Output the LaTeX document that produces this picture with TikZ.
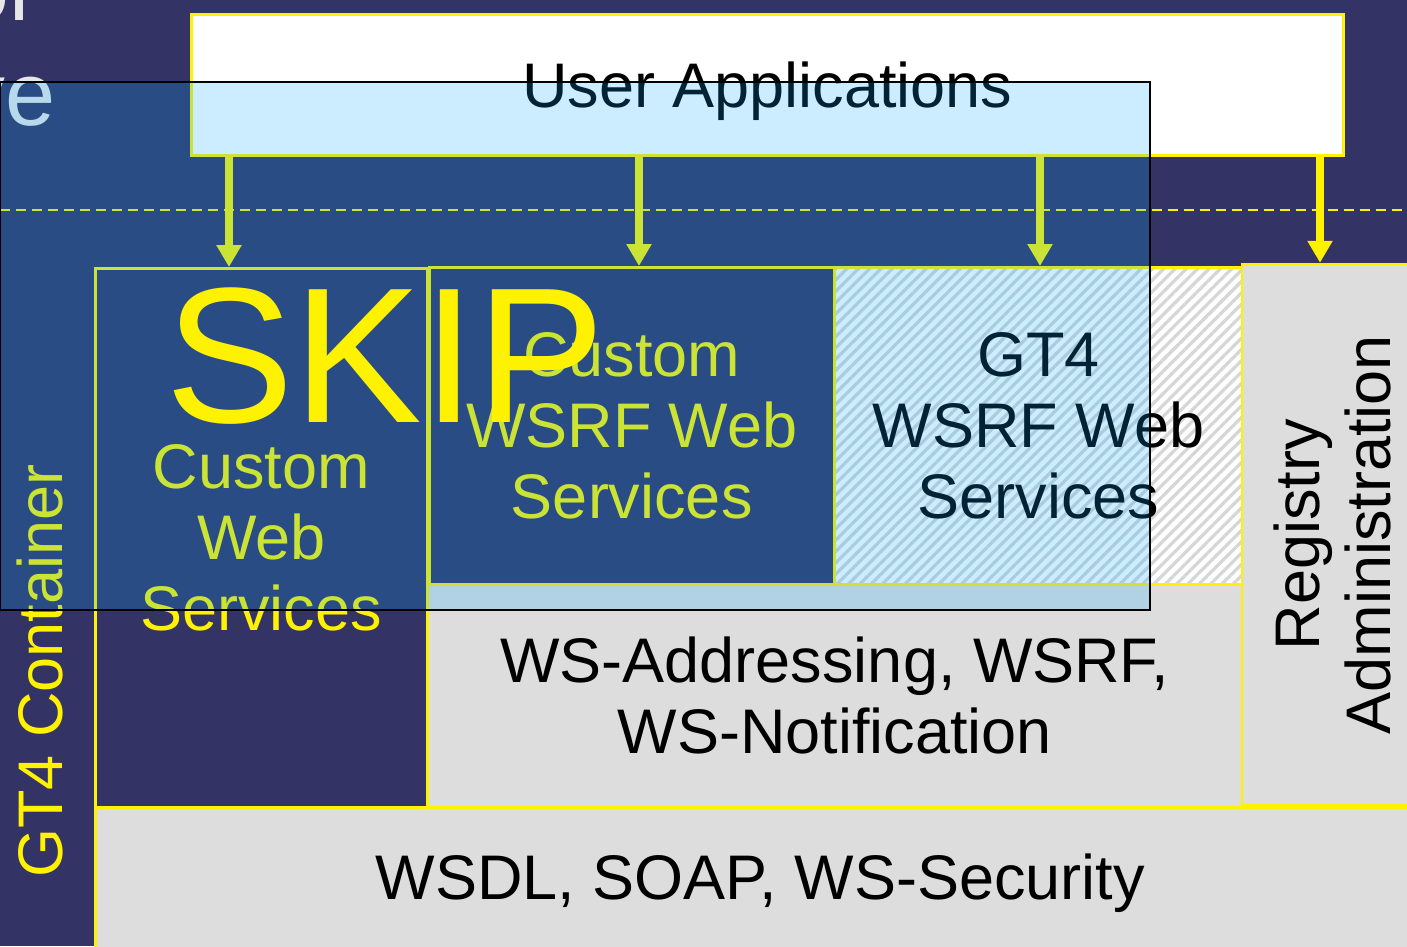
\documentclass[tikz,border=0pt]{standalone}
\usepackage{fontspec}
\setmainfont{Liberation Sans}
\usepackage{xcolor}
\usepackage{tikz}
\usetikzlibrary{arrows.meta,positioning,patterns.meta}
\definecolor{slidebg}{RGB}{51,51,102}
\definecolor{layergray}{RGB}{221,221,221}
\definecolor{hatchgray}{RGB}{214,214,214}
\definecolor{titlegray}{RGB}{230,230,230}
\definecolor{overlayblue}{RGB}{7,172,255}
\newcommand{\layerfont}{\fontsize{63}{71}\selectfont}

\tikzset{
  layer/.style={draw=yellow, line width=2.5, inner sep=0pt, font=\layerfont, align=center},
  darklayer/.style={layer, fill=slidebg, text=yellow},
  graylayer/.style={layer, fill=layergray, text=black},
  hatchlayer/.style={layer, preaction={fill=white},
    pattern={Lines[angle=45, distance=8pt, line width=3.2pt]}, pattern color=hatchgray, text=black},
  callarrow/.style={draw=yellow, line width=8, -{Triangle[width=24pt, length=22pt]}},
  titlefrag/.style={anchor=base east, inner sep=0pt, text=titlegray, font=\fontsize{90}{100}\selectfont}
}

\begin{document}
\begin{tikzpicture}[x=1pt, y=-1pt]
  % Slide background
  \fill[slidebg] (0,0) rectangle (1407,946);
  \useasboundingbox (0,0) rectangle (1407,946);

  % Title lines, cut off at the left
  \node[titlefrag] (ttlA) at (30,20) {ol};
  \node[titlefrag] (ttlB) at (56,125) {ve};

  % Applications on top
  \node[layer, fill=white, text=black, text depth=0pt, minimum width=1152, minimum height=141,
    anchor=north west] (apps) at (190,13) {User Applications};

  % Container boundary
  \draw[yellow, line width=2, dash pattern=on 10pt off 6pt] (0,210) -- (1407,210);

  % Service layers
  \node[darklayer, minimum width=332, minimum height=539, anchor=north west]
    (cws) at (94,267) {Custom\\Web\\Services};
  \node[darklayer, minimum width=405, minimum height=317, anchor=north west]
    (cwsrf) at (428,266) {Custom\\WSRF Web\\Services};
  \node[hatchlayer, minimum width=408, minimum height=317, anchor=north west]
    (gwsrf) at (833,266) {GT4\\WSRF Web\\Services};
  \node[graylayer, minimum width=815, minimum height=223, anchor=north west]
    (wsa) at (426,583) {WS-Addressing, WSRF,\\WS-Notification};
  \node[graylayer, minimum width=1330, minimum height=152, anchor=north west]
    (wsdl) at (94,806) {WSDL, SOAP, WS-Security};
  \node[graylayer, rotate=90, minimum width=541, minimum height=180]
    (reg) at (1332,534.5) {Registry\\Administration};

  % Calls from the applications
  \coordinate (tapA) at (229,0);
  \coordinate (tapB) at (639,0);
  \coordinate (tapC) at (1040,0);
  \coordinate (tapD) at (1320,0);
  \draw[callarrow] (apps.south -| tapA) -- (cws.north -| tapA);
  \draw[callarrow] (apps.south -| tapB) -- (cwsrf.north -| tapB);
  \draw[callarrow] (apps.south -| tapC) -- (gwsrf.north -| tapC);
  \draw[callarrow] (apps.south -| tapD) -- (reg.east -| tapD);

  % Container label
  \node[rotate=90, inner sep=0pt, text=yellow, font=\layerfont] (gtc) at (40,671) {GT4 Container};

  % Tinted highlight over the slide
  \fill[overlayblue, fill opacity=0.206] (0,82) rectangle (1150,610);
  \draw[black, line width=1.2] (0,82) rectangle (1150,610);

  % Stamp
  \node[anchor=base west, inner sep=0pt, text=yellow, font=\fontsize{193}{193}\selectfont]
    (skip) at (165,422) {SKIP};
\end{tikzpicture}
\end{document}
